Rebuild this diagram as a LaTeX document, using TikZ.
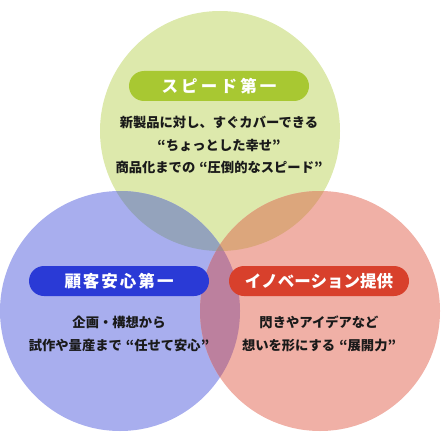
\documentclass[tikz,border=0pt]{standalone}
\usepackage{fontspec}
\newfontfamily\jp{Noto Sans CJK JP}
\definecolor{cG}{HTML}{DDE9AC}
\definecolor{cB}{HTML}{A8AEEE}
\definecolor{cR}{HTML}{F0B0A6}
\definecolor{cGB}{HTML}{94A3BC}
\definecolor{cGR}{HTML}{DCA67C}
\definecolor{cBR}{HTML}{BC809E}
\definecolor{cGBR}{HTML}{AC8A8E}
\definecolor{pG}{HTML}{A8C832}
\definecolor{pB}{HTML}{2A3AD6}
\definecolor{pR}{HTML}{D8402C}
\definecolor{txt}{HTML}{1A1A1A}
\newcommand\gk{\kern3.2pt}
\begin{document}
\begin{tikzpicture}[x=1pt,y=-1pt,
  pill/.style={rounded corners=15pt, minimum width=180pt, minimum height=30pt,
    inner sep=0pt, text=white, font=\jp\bfseries\fontsize{16.5}{16.5}\selectfont},
  body/.style={align=center, text=txt, inner sep=0pt,
    font=\jp\bfseries\fontsize{13.3}{22.5}\selectfont}]
\useasboundingbox (0,0) rectangle (440,441);
\coordinate (cg) at (220,131);
\coordinate (cb) at (120,311);
\coordinate (cr) at (320,311);
\fill[cG] (cg) circle[radius=120pt];
\fill[cB] (cb) circle[radius=120pt];
\fill[cR] (cr) circle[radius=120pt];
\begin{scope}
  \clip (cb) circle[radius=120pt];
  \fill[cBR] (cr) circle[radius=120pt];
\end{scope}
\begin{scope}
  \clip (cg) circle[radius=120pt];
  \fill[cGB] (cb) circle[radius=120pt];
  \fill[cGR] (cr) circle[radius=120pt];
  \clip (cb) circle[radius=120pt];
  \fill[cGBR] (cr) circle[radius=120pt];
\end{scope}
\node[pill, fill=pG] (pg) at (219,86) {ス\gk ピ\gk ー\gk ド\gk 第\gk 一};
\node[pill, fill=pB] (pb) at (119,281) {顧\kern2pt 客\kern2pt 安\kern2pt 心\kern2pt 第\kern2pt 一};
\node[pill, fill=pR] (pr) at (319,281) {イノベーション提供};
\node[body] (tg) at (219,145) {新製品に対し、すぐカバーできる\\“ちょっとした幸せ”\\商品化までの\kern4pt“圧倒的なスピード”};
\node[body] (tb) at (119,334) {企画・構想から\\試作や量産まで\kern4pt“任せて安心”};
\node[body] (tr) at (319,334) {閃きやアイデアなど\\想いを形にする\kern4pt“展開力”};
\end{tikzpicture}
\end{document}
